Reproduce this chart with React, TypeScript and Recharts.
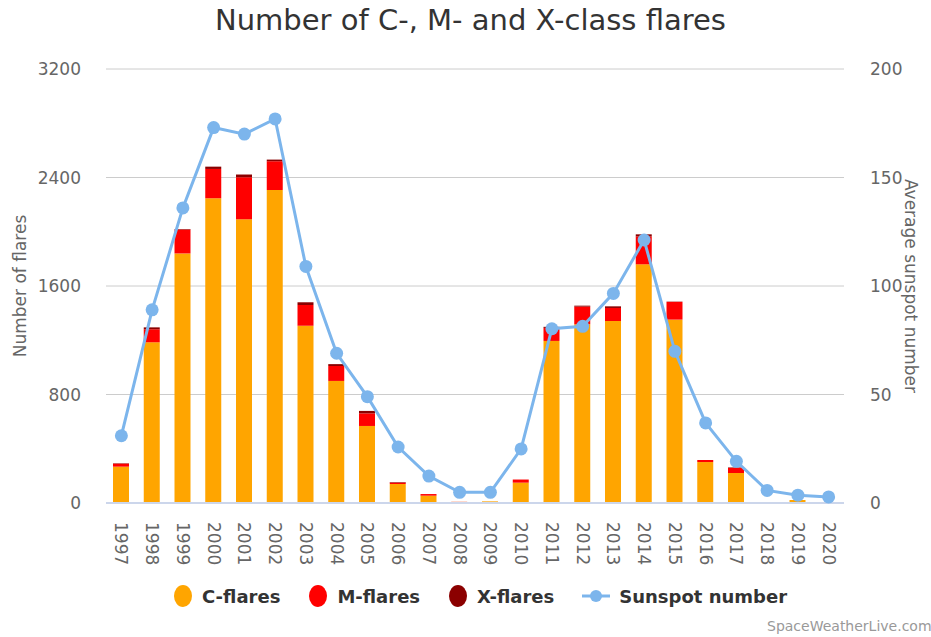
import { ComposedChart, Bar, Line, XAxis, YAxis, CartesianGrid } from 'recharts';

const years = [
  '1997', '1998', '1999', '2000', '2001', '2002', '2003', '2004', '2005', '2006', '2007', '2008',
  '2009', '2010', '2011', '2012', '2013', '2014', '2015', '2016', '2017', '2018', '2019', '2020',
];
const cFlares = [268, 1185, 1840, 2247, 2092, 2308, 1307, 900, 568, 140, 54, 8, 12, 150, 1195, 1318, 1342, 1760, 1352, 302, 221, 3, 22, 2];
const mFlares = [22, 96, 176, 216, 310, 212, 153, 110, 93, 10, 12, 1, 0, 23, 96, 130, 96, 205, 131, 15, 37, 0, 0, 0];
const xFlares = [3, 14, 4, 17, 20, 12, 20, 14, 18, 4, 0, 0, 0, 0, 8, 7, 12, 16, 2, 0, 4, 0, 0, 0];
const sunspots = [31, 89, 136, 173, 170, 177, 109, 69, 49, 25.8, 12.4, 4.9, 4.9, 24.9, 80.3, 81.4, 96.6, 121.2, 69.9, 36.9, 19.2, 5.8, 3.6, 2.8];

const flareTicks = [0, 800, 1600, 2400, 3200];
const sunspotTicks = [0, 50, 100, 150, 200];

const COLORS = {
  c: '#FFA500',
  m: '#FF0000',
  x: '#8B0000',
  sun: '#7CB5EC',
};

const data = years.map((year, i) => ({
  year,
  c: cFlares[i],
  m: mFlares[i],
  x: xFlares[i],
  sun: sunspots[i],
}));

const legendItems = [
  { name: 'C-flares', color: COLORS.c, kind: 'dot' },
  { name: 'M-flares', color: COLORS.m, kind: 'dot' },
  { name: 'X-flares', color: COLORS.x, kind: 'dot' },
  { name: 'Sunspot number', color: COLORS.sun, kind: 'line' },
];

const FONT = '"DejaVu Sans", Verdana, sans-serif';

const YearTick = (props: any) => {
  const { x, y, payload } = props;
  const ty = y + 19;
  return (
    <text
      x={x}
      y={ty}
      transform={`rotate(90, ${x}, ${ty})`}
      fill="#666"
      fontSize={17}
      dominantBaseline="central"
      textAnchor="start"
    >
      {payload.value}
    </text>
  );
};

const AxisTitle = ({ viewBox, text, cx, angle }: any) => {
  const cy = viewBox.y + viewBox.height / 2;
  return (
    <text
      x={cx}
      y={cy}
      transform={`rotate(${angle}, ${cx}, ${cy})`}
      textAnchor="middle"
      dominantBaseline="central"
      fill="#666"
      fontSize={17}
    >
      {text}
    </text>
  );
};

export default function App() {
  return (
    <div
      style={{
        position: 'absolute',
        left: 0,
        top: 0,
        width: 931,
        height: 637,
        overflow: 'hidden',
        background: '#fff',
        fontFamily: FONT,
      }}
    >
      <div
        style={{
          position: 'absolute',
          top: 3,
          left: 0,
          width: 931,
          textAlign: 'center',
          fontSize: 29,
          color: '#333',
          paddingLeft: 10,
          boxSizing: 'border-box',
        }}
      >
        Number of C-, M- and X-class flares
      </div>

      <ComposedChart
        width={931}
        height={637}
        data={data}
        margin={{ top: 69, right: 0, bottom: 0, left: 0 }}
      >
        <CartesianGrid yAxisId="left" vertical={false} stroke="#cccccc" />
        <XAxis
          dataKey="year"
          height={134}
          tick={<YearTick />}
          tickLine={false}
          tickSize={0}
          tickMargin={0}
          interval={0}
          axisLine={{ stroke: '#ccd6eb', strokeWidth: 2 }}
        />
        <YAxis
          yAxisId="left"
          orientation="left"
          width={106}
          domain={[0, 3200]}
          ticks={flareTicks}
          tickLine={false}
          axisLine={false}
          tickSize={0}
          tickMargin={25}
          tick={{ fill: '#666', fontSize: 17 }}
          label={{
            content: (p: any) => <AxisTitle viewBox={p.viewBox} text="Number of flares" cx={20} angle={-90} />,
          }}
        />
        <YAxis
          yAxisId="right"
          orientation="right"
          width={87}
          domain={[0, 200]}
          ticks={sunspotTicks}
          tickLine={false}
          axisLine={false}
          tickSize={0}
          tickMargin={26}
          tick={{ fill: '#666', fontSize: 17, textAnchor: 'start' }}
          label={{
            content: (p: any) => <AxisTitle viewBox={p.viewBox} text="Average sunspot number" cx={911} angle={90} />,
          }}
        />
        <Bar yAxisId="left" dataKey="c" name="C-flares" stackId="flares" fill={COLORS.c} barSize={16} isAnimationActive={false} />
        <Bar yAxisId="left" dataKey="m" name="M-flares" stackId="flares" fill={COLORS.m} barSize={16} isAnimationActive={false} />
        <Bar yAxisId="left" dataKey="x" name="X-flares" stackId="flares" fill={COLORS.x} barSize={16} isAnimationActive={false} />
        <Line
          yAxisId="right"
          dataKey="sun"
          name="Sunspot number"
          stroke={COLORS.sun}
          strokeWidth={3}
          dot={{ r: 6.5, fill: COLORS.sun, stroke: COLORS.sun, strokeWidth: 0 }}
          activeDot={false}
          isAnimationActive={false}
        />
      </ComposedChart>

      <div
        style={{
          position: 'absolute',
          top: 584,
          left: 173,
          display: 'flex',
          alignItems: 'center',
          gap: 28,
          fontSize: 18,
          fontWeight: 'bold',
          color: '#333',
          whiteSpace: 'nowrap',
        }}
      >
        {legendItems.map((item) => (
          <div key={item.name} style={{ display: 'flex', alignItems: 'center', gap: 9 }}>
            {item.kind === 'dot' ? (
              <svg width={20} height={24}>
                <ellipse cx={10} cy={12} rx={9} ry={11} fill={item.color} />
              </svg>
            ) : (
              <svg width={28} height={24}>
                <line x1={0} y1={12} x2={28} y2={12} stroke={item.color} strokeWidth={3} />
                <circle cx={14} cy={12} r={6} fill={item.color} />
              </svg>
            )}
            <span>{item.name}</span>
          </div>
        ))}
      </div>

      <div
        style={{
          position: 'absolute',
          top: 618,
          left: 767,
          fontSize: 14,
          color: '#999',
          whiteSpace: 'nowrap',
        }}
      >
        SpaceWeatherLive.com
      </div>
    </div>
  );
}
